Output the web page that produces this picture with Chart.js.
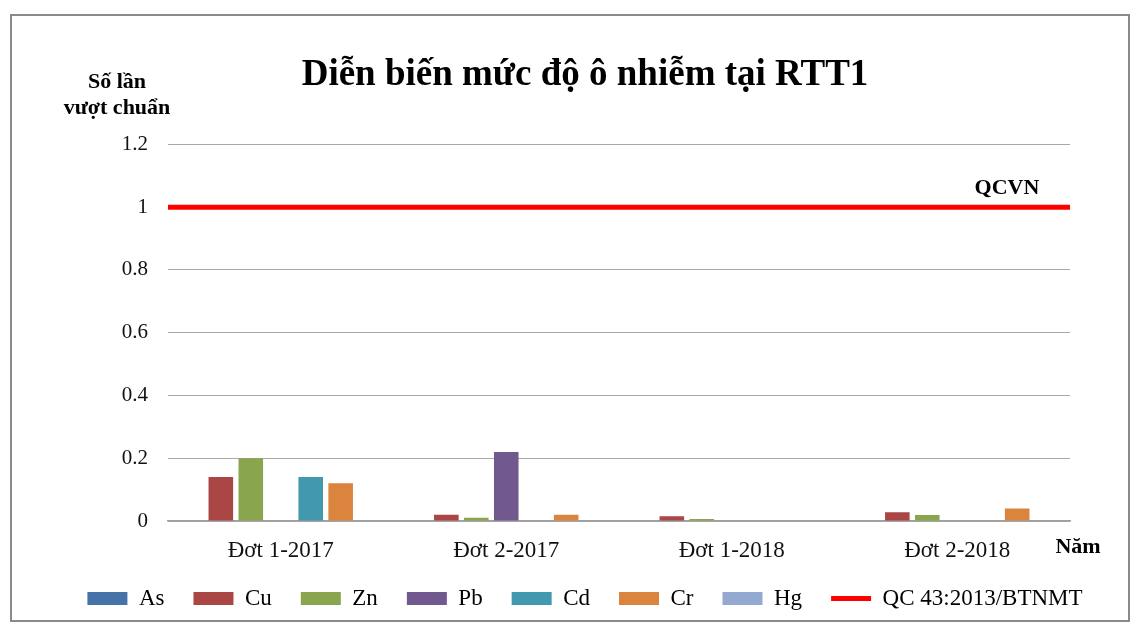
<!DOCTYPE html>
<html>
<head>
<meta charset="utf-8">
<script src="https://cdn.jsdelivr.net/npm/chart.js@4.4.1/dist/chart.umd.min.js"></script>
<style>
  html, body { margin: 0; padding: 0; background: #fff; }
  #box {
    position: absolute; left: 10px; top: 14px;
    width: 1116px; height: 604px;
    border: 2px solid #8a8a8a;
  }
</style>
</head>
<body>
<div id="box"><canvas id="chart" width="1116" height="604"></canvas></div>
<script>
// ---- data ----
const categories = ['Đợt 1-2017', 'Đợt 2-2017', 'Đợt 1-2018', 'Đợt 2-2018'];

const asValues = [0, 0, 0, 0];
const cuValues = [0.14, 0.02, 0.015, 0.028];
const znValues = [0.2, 0.01, 0.006, 0.019];
const pbValues = [0, 0.22, 0, 0];
const cdValues = [0.14, 0, 0, 0];
const crValues = [0.12, 0.02, 0, 0.04];
const hgValues = [0, 0, 0, 0];

const qcLimit = 1;            // QC 43:2013/BTNMT
const yTicks = [0, 0.2, 0.4, 0.6, 0.8, 1, 1.2];

const serif = '"Liberation Serif", "Times New Roman", serif';

function barSet(label, data, color) {
    return {
        label: label,
        data: data,
        backgroundColor: color,
        borderWidth: 0,
        categoryPercentage: 0.93,
        barPercentage: 0.82
    };
}

// extra labels drawn on the canvas: axis caption, QCVN, Năm
const extraText = {
    id: 'extraText',
    afterDraw(chart) {
        const { ctx, chartArea, scales } = chart;
        ctx.save();
        ctx.fillStyle = '#000';
        ctx.textAlign = 'center';
        ctx.textBaseline = 'middle';
        ctx.font = 'bold 22px ' + serif;
        ctx.fillText('Số lần', 105, 66);
        ctx.fillText('vượt chuẩn', 105, 92);

        ctx.fillText('QCVN', chartArea.right - 63, scales.y.getPixelForValue(qcLimit) - 19);
        ctx.fillText('Năm', chartArea.right + 8, chartArea.bottom + 26);
        ctx.restore();
    }
};

// the limit line runs over the whole plot width: from the left edge of the
// first category (index -0.5) to the right edge of the last one
const lastIdx = categories.length - 1;

new Chart(document.getElementById('chart').getContext('2d'), {
    type: 'bar',
    data: {
        labels: categories,
        datasets: [
            barSet('As', asValues, '#4572A7'),
            barSet('Cu', cuValues, '#AA4643'),
            barSet('Zn', znValues, '#89A54E'),
            barSet('Pb', pbValues, '#71588F'),
            barSet('Cd', cdValues, '#4198AF'),
            barSet('Cr', crValues, '#DB843D'),
            barSet('Hg', hgValues, '#93A9CF'),
            {
                type: 'line',
                label: 'QC 43:2013/BTNMT',
                parsing: false,
                data: [{ x: -0.5, y: qcLimit }, { x: lastIdx + 0.5, y: qcLimit }],
                borderColor: '#ff0000',
                backgroundColor: '#ff0000',
                borderWidth: 5,
                pointRadius: 0,
                fill: false
            }
        ]
    },
    options: {
        responsive: false,
        animation: false,
        layout: { padding: { left: 30, right: 0, top: 0, bottom: 0 } },
        plugins: {
            title: {
                display: true,
                text: 'Diễn biến mức độ ô nhiễm tại RTT1',
                color: '#000',
                font: { family: serif, size: 37, weight: 'bold' },
                padding: { top: 37, bottom: 47 }
            },
            legend: {
                position: 'bottom',
                labels: {
                    usePointStyle: true,
                    pointStyleWidth: 40,
                    boxHeight: 13,
                    padding: 29,
                    color: '#000',
                    font: { family: serif, size: 23 },
                    generateLabels(chart) {
                        const items = Chart.defaults.plugins.legend.labels.generateLabels(chart);
                        items.forEach(it => {
                            const ds = chart.data.datasets[it.datasetIndex];
                            if (ds.type === 'line') {
                                it.pointStyle = 'line';
                                it.lineWidth = 5;
                                it.strokeStyle = '#ff0000';
                            } else {
                                it.pointStyle = 'rect';
                                it.lineWidth = 0;
                            }
                        });
                        return items;
                    }
                }
            },
            tooltip: { enabled: false }
        },
        scales: {
            x: {
                min: 0,
                max: lastIdx,
                grid: { display: false, drawTicks: false },
                border: { display: true, color: '#a0a0a0', width: 1.5 },
                ticks: { color: '#111', padding: 16, font: { family: serif, size: 23 } },
                afterFit(s) { s.height = 37; }
            },
            y: {
                min: 0,
                max: 1.2,
                afterBuildTicks(s) { s.ticks = yTicks.map(v => ({ value: v })); },
                grid: { color: '#a8a8a8', lineWidth: 1, drawTicks: false },
                border: { display: false },
                ticks: {
                    color: '#111', padding: 20, font: { family: serif, size: 21 },
                    callback: v => String(v)
                },
                afterFit(s) { s.width = 126; }
            },
            y2: {
                position: 'right',
                display: true,
                grid: { display: false },
                border: { display: false },
                ticks: { display: false },
                afterFit(s) { s.width = 58; }
            }
        }
    },
    plugins: [extraText]
});
</script>
</body>
</html>
